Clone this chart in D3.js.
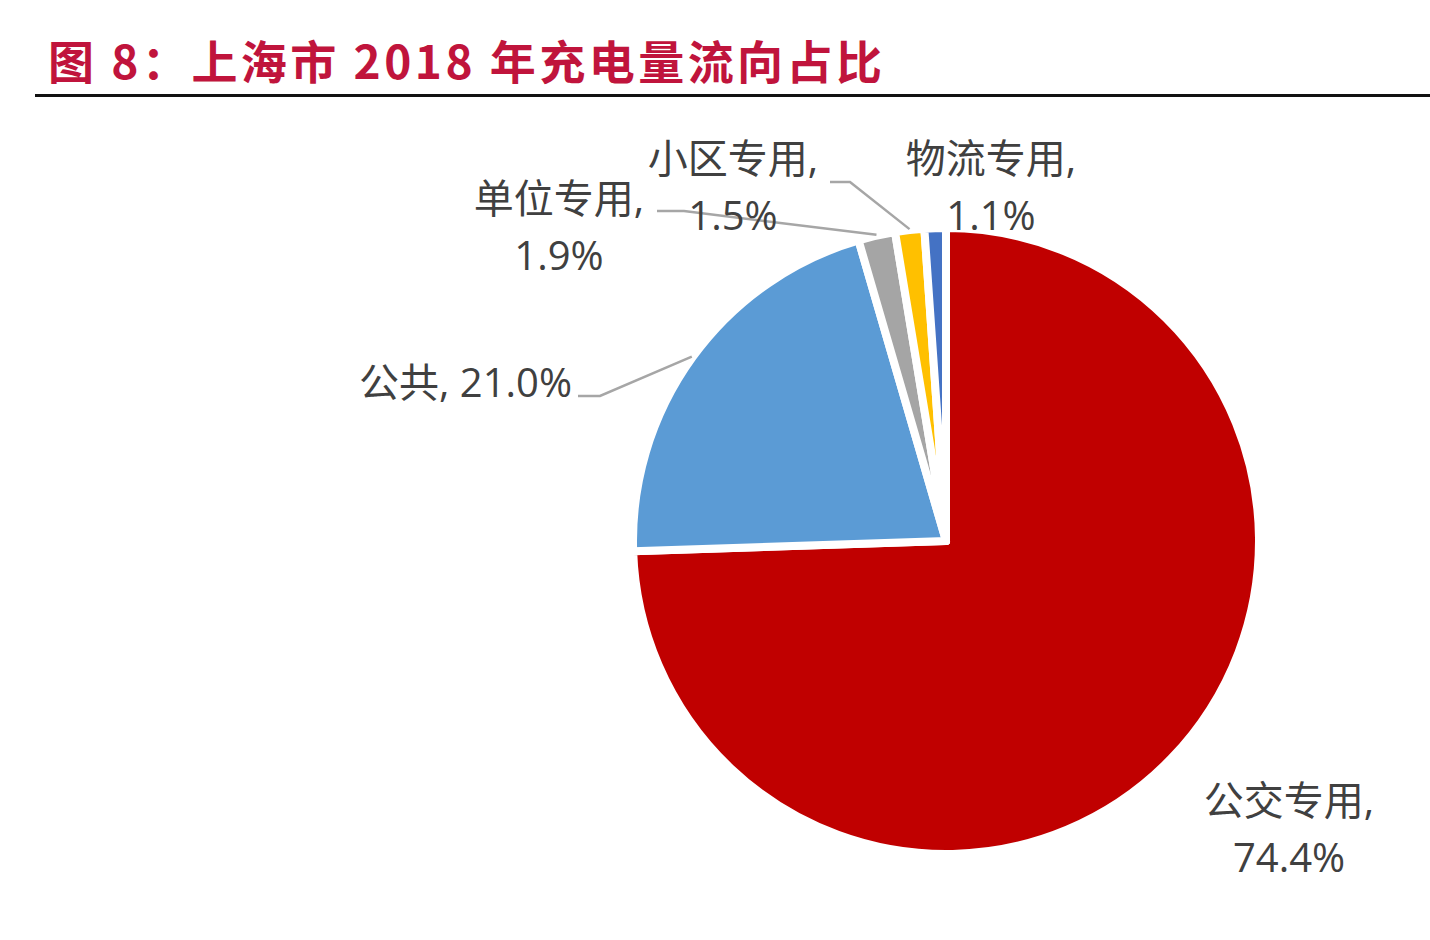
<!DOCTYPE html>
<html>
<head>
<meta charset="utf-8">
<script src="https://cdn.jsdelivr.net/npm/d3@7"></script>
<style>
    html, body { margin: 0; padding: 0; background: #fff; }
    svg { display: block; }
    .sliceLabel { font-family: 'Open Sans', 'Noto Sans CJK SC', sans-serif; font-size: 40px; fill: #404040; }
</style>
</head>
<body>
<svg id="chart" width="1430" height="940"></svg>
<script>
// --- data
const CATEGORIES = ['公交专用', '公共', '单位专用', '小区专用', '物流专用'];
const VALUES = [74.4, 21.0, 1.9, 1.5, 1.1];
const COLORS = ['#C00000', '#5B9BD5', '#A5A5A5', '#FFC000', '#4472C4'];

// --- label layout (x centre / anchor, baseline of last line, two lines or not)
const LABEL_LAYOUT = [
    { x: 1289, y: 872, anchor: 'middle', split: true },
    { x: 572, y: 397, anchor: 'end', split: false },
    { x: 559, y: 270, anchor: 'middle', split: true },
    { x: 733, y: 230, anchor: 'middle', split: true },
    { x: 991, y: 230, anchor: 'middle', split: true }
];
// leader lines: [startX, elbowX, y] or null
const LEADERS = [
    null,
    [578, 600, 396],
    [657, 684, 211],
    [830, 850, 182],
    null
];

function drawChart() {
    const svg = d3.select('#chart');
    const config = getConfig();

    drawTitle(svg);

    const g = svg.append('g')
        .attr('transform', `translate(${config.center.x}, ${config.center.y})`);

    const pieData = d3.pie()
        .sort(null)
        .value(d => d.value)(CATEGORIES.map((name, i) => ({ name, value: VALUES[i], idx: i })));

    drawSlices(g, pieData, config);
    drawLeaders(g, pieData, config);
    drawLabels(svg, pieData);
}

function drawTitle(svg) {
    svg.append('text')
        .attr('x', 48)
        .attr('y', 79)
        .attr('textLength', 834)
        .attr('lengthAdjust', 'spacing')
        .style('font-family', "'Noto Sans CJK SC', sans-serif")
        .style('font-weight', 700)
        .style('font-size', '46px')
        .style('fill', '#C0143C')
        .text('图 8：上海市 2018 年充电量流向占比');

    svg.append('line')
        .attr('x1', 35)
        .attr('x2', 1430)
        .attr('y1', 95.5)
        .attr('y2', 95.5)
        .attr('stroke', '#111')
        .attr('stroke-width', 3);
}

function drawSlices(selection, pieData, config) {
    const arc = d3.arc()
        .innerRadius(0)
        .outerRadius(config.radius);

    selection.append('g')
        .attr('class', 'slices')
        .selectAll('path')
        .data(pieData)
        .enter()
        .append('path')
        .attr('fill', d => COLORS[d.data.idx])
        .attr('stroke', '#fff')
        .attr('stroke-width', 8)
        .attr('stroke-linejoin', 'round')
        .attr('d', arc);
}

function drawLeaders(selection, pieData, config) {
    const outer = d3.arc()
        .innerRadius(config.radius + 1)
        .outerRadius(config.radius + 1);

    const lineFn = d3.line();

    selection.append('g')
        .attr('class', 'leaders')
        .selectAll('path')
        .data(pieData.filter(d => LEADERS[d.data.idx]))
        .enter()
        .append('path')
        .attr('fill', 'none')
        .attr('stroke', '#A6A6A6')
        .attr('stroke-width', 2.5)
        .attr('d', d => {
            const [sx, ex, y] = LEADERS[d.data.idx];
            const cx = config.center.x;
            const cy = config.center.y;
            return lineFn([[sx - cx, y - cy], [ex - cx, y - cy], outer.centroid(d)]);
        });
}

function drawLabels(svg, pieData) {
    const group = svg.append('g').attr('class', 'labels');

    pieData.forEach(d => {
        const lay = LABEL_LAYOUT[d.data.idx];
        const pct = `${d.data.value.toFixed(1)}%`;
        const text = group.append('text')
            .attr('class', 'sliceLabel')
            .attr('text-anchor', lay.anchor);

        if (lay.split) {
            text.append('tspan')
                .attr('x', lay.x)
                .attr('y', lay.y - 57)
                .text(`${d.data.name},`);
            text.append('tspan')
                .attr('x', lay.x)
                .attr('y', lay.y)
                .text(pct);
        } else {
            text.attr('x', lay.x)
                .attr('y', lay.y)
                .text(`${d.data.name}, ${pct}`);
        }
    });
}

function getConfig() {
    return {
        center: { x: 946, y: 541 },
        radius: 313
    };
}

drawChart();
</script>
</body>
</html>
